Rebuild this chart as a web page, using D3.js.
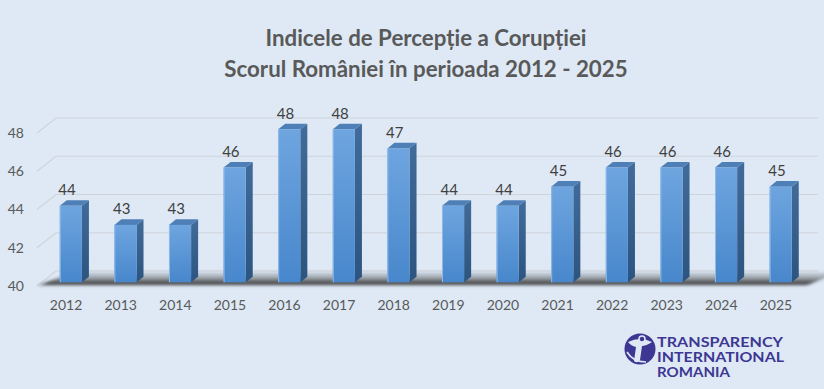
<!DOCTYPE html>
<html>
<head>
<meta charset="utf-8">
<script src="https://cdn.jsdelivr.net/npm/d3@7"></script>
<style>
  html, body { margin: 0; padding: 0; background: #dee9f5; }
  svg { display: block; }
</style>
</head>
<body>
<div id="chart"></div>
<script>
// Chart data
const years = ['2012', '2013', '2014', '2015', '2016', '2017', '2018',
  '2019', '2020', '2021', '2022', '2023', '2024', '2025'];
const scores = [44, 43, 43, 46, 48, 48, 47, 44, 44, 45, 46, 46, 46, 45];
const yTicks = [40, 42, 44, 46, 48];
const titleLines = ['Indicele de Percepție a Corupției', 'Scorul României în perioada 2012 - 2025'];
const logoLines = ['TRANSPARENCY', 'INTERNATIONAL', 'ROMANIA'];

const width = 824;
const height = 389;

const svg = d3.select('#chart')
  .append('svg')
  .attr('width', width)
  .attr('height', height);

const defs = svg.append('defs');

// gradients for the bar faces
const frontGrad = defs.append('linearGradient')
  .attr('id', 'frontGrad')
  .attr('x1', 0).attr('y1', 0).attr('x2', 0).attr('y2', 1);
frontGrad.append('stop').attr('offset', '0%').attr('stop-color', '#6ea5df');
frontGrad.append('stop').attr('offset', '100%').attr('stop-color', '#4887cc');

const sideGrad = defs.append('linearGradient')
  .attr('id', 'sideGrad')
  .attr('x1', 0).attr('y1', 0).attr('x2', 0).attr('y2', 1);
sideGrad.append('stop').attr('offset', '0%').attr('stop-color', '#416b9a');
sideGrad.append('stop').attr('offset', '100%').attr('stop-color', '#2c5480');

const floorGrad = defs.append('linearGradient')
  .attr('id', 'floorGrad')
  .attr('x1', 0).attr('y1', 0).attr('x2', 0).attr('y2', 1);
floorGrad.append('stop').attr('offset', '0%').attr('stop-color', '#3a3a3a').attr('stop-opacity', 0);
floorGrad.append('stop').attr('offset', '50%').attr('stop-color', '#3a3a3a').attr('stop-opacity', 0.45);
floorGrad.append('stop').attr('offset', '85%').attr('stop-color', '#2a2a2a').attr('stop-opacity', 0.9);
floorGrad.append('stop').attr('offset', '100%').attr('stop-color', '#3a3a3a').attr('stop-opacity', 0.2);

defs.append('filter')
  .attr('id', 'blur')
  .attr('x', '-5%').attr('y', '-50%').attr('width', '110%').attr('height', '200%')
  .append('feGaussianBlur')
  .attr('stdDeviation', 1.5);

// Front plane scales, plus a depth offset for the 3D look
const depthX = 19;
const depthY = -15;
const zFront = 0.25;
const zBack = 0.62;

const x = d3.scaleBand()
  .domain(years)
  .range([37, 805])
  .paddingInner(0.595)
  .paddingOuter(0.33);

const y = d3.scaleLinear()
  .domain([40, 48])
  .range([286, 133]);

const proj = (px, v, z) => [px + z * depthX, y(v) + z * depthY];

// Gridlines: short slant on the left wall + line on the back wall
const grid = svg.append('g').attr('class', 'grid')
  .attr('stroke', '#cfd4d9')
  .attr('stroke-width', 1.2)
  .attr('fill', 'none');

grid.selectAll('path')
  .data(yTicks)
  .enter()
  .append('path')
  .attr('d', (t) => {
    const a = proj(37, t, 0);
    const b = proj(37, t, 1);
    const c = proj(799, t, 1);
    return `M${a[0]},${a[1]}L${b[0]},${b[1]}L${c[0]},${c[1]}`;
  });

// Floor shadow
const fl = [proj(37, 40, 0), proj(805, 40, 0), proj(824, 40, 1), proj(56, 40, 1)];
svg.append('path')
  .attr('d', 'M' + fl.map((p) => p.join(',')).join('L') + 'Z')
  .attr('fill', 'url(#floorGrad)')
  .attr('filter', 'url(#blur)');

// Bars
const bw = x.bandwidth();
const bars = svg.append('g').attr('class', 'bars')
  .selectAll('g')
  .data(years.map((yr, i) => ({ year: yr, score: scores[i] })))
  .enter()
  .append('g');

const poly = (pts) => 'M' + pts.map((p) => p.join(',')).join('L') + 'Z';

// side face
bars.append('path')
  .attr('d', (d) => {
    const x1 = x(d.year) + bw;
    return poly([proj(x1, d.score, zFront), proj(x1, d.score, zBack),
      proj(x1, 40, zBack), proj(x1, 40, zFront)]);
  })
  .attr('fill', 'url(#sideGrad)');

// top face
bars.append('path')
  .attr('d', (d) => {
    const x0 = x(d.year);
    return poly([proj(x0, d.score, zFront), proj(x0 + bw, d.score, zFront),
      proj(x0 + bw, d.score, zBack), proj(x0, d.score, zBack)]);
  })
  .attr('fill', '#4f7fb7');

// front face
bars.append('rect')
  .attr('x', (d) => proj(x(d.year), d.score, zFront)[0])
  .attr('y', (d) => proj(x(d.year), d.score, zFront)[1])
  .attr('width', bw)
  .attr('height', (d) => y(40) - y(d.score))
  .attr('fill', 'url(#frontGrad)');

// light left edge of the front face
bars.append('line')
  .attr('x1', (d) => proj(x(d.year), d.score, zFront)[0] + 0.5)
  .attr('x2', (d) => proj(x(d.year), d.score, zFront)[0] + 0.5)
  .attr('y1', (d) => proj(x(d.year), d.score, zFront)[1])
  .attr('y2', (d) => proj(x(d.year), 40, zFront)[1])
  .attr('stroke', '#8dbbea')
  .attr('stroke-width', 1);

// value labels
bars.append('text')
  .attr('x', (d) => x(d.year) + bw / 2 + 1)
  .attr('y', (d) => proj(x(d.year), d.score, zBack)[1] - 5)
  .attr('text-anchor', 'middle')
  .style('font-family', 'Lato, sans-serif')
  .style('font-size', '15px')
  .style('fill', '#404040')
  .text((d) => d.score);

// Axes (labels only)
const yAxis = svg.append('g')
  .attr('transform', 'translate(37,0)')
  .call(d3.axisLeft(y).tickValues(yTicks).tickSize(0).tickPadding(13));

const xAxis = svg.append('g')
  .attr('transform', `translate(0,${y(40)})`)
  .call(d3.axisBottom(x).tickSize(0).tickPadding(14));

[yAxis, xAxis].forEach((ax) => {
  ax.select('.domain').remove();
  ax.selectAll('text')
    .style('font-family', 'Lato, sans-serif')
    .style('font-size', '14px')
    .style('fill', '#595959');
});

// Title
svg.append('g')
  .selectAll('text')
  .data(titleLines)
  .enter()
  .append('text')
  .attr('x', 426)
  .attr('y', (d, i) => 46 + i * 31)
  .attr('text-anchor', 'middle')
  .style('font-family', 'Lato, sans-serif')
  .style('font-weight', 'bold')
  .style('font-size', '22.3px')
  .style('fill', '#595959')
  .text((d) => d);

// Logo
const logoColor = '#3d3793';
const logo = svg.append('g').attr('class', 'logo');

logo.append('circle')
  .attr('cx', 640).attr('cy', 349).attr('r', 15.5)
  .attr('fill', logoColor);

// stylised figure inside the circle
logo.append('path')
  .attr('d', 'M628,342 Q640,336 652,342 Q646,346 642,346 L640,360 Q637,364 634,361 L636,347 Q631,346 628,342 Z')
  .attr('fill', '#dee9f5');
logo.append('circle')
  .attr('cx', 642).attr('cy', 339).attr('r', 3)
  .attr('fill', logoColor)
  .attr('stroke', '#dee9f5')
  .attr('stroke-width', 1.5);
logo.append('path')
  .attr('d', 'M627,352 Q633,362 646,362')
  .attr('fill', 'none')
  .attr('stroke', '#dee9f5')
  .attr('stroke-width', 1.6);

const logoWidths = [126, 127, 73];
logo.selectAll('text')
  .data(logoLines)
  .enter()
  .append('text')
  .attr('x', 657)
  .attr('y', (d, i) => 346.5 + i * 15)
  .attr('textLength', (d, i) => logoWidths[i])
  .attr('lengthAdjust', 'spacingAndGlyphs')
  .style('font-family', 'Lato, sans-serif')
  .style('font-weight', 'bold')
  .style('font-size', '13px')
  .style('fill', logoColor)
  .text((d) => d);
</script>
</body>
</html>
